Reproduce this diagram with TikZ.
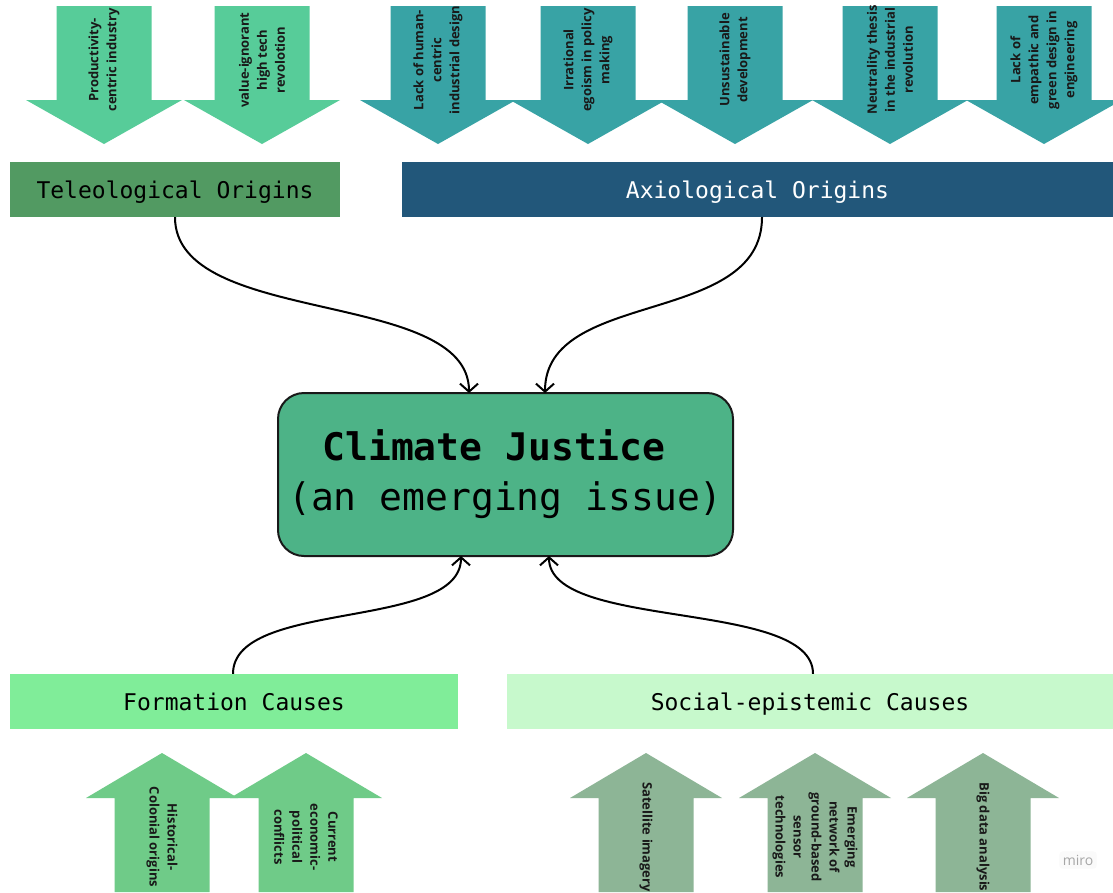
\documentclass[tikz,border=0pt]{standalone}
\usepackage{fontspec}
\setmainfont{Open Sans}
\setmonofont{DejaVu Sans Mono}
\usetikzlibrary{calc,arrows.meta}

\definecolor{telegreen}{HTML}{529A62}
\definecolor{axioblue}{HTML}{22577A}
\definecolor{axioteal}{HTML}{38A3A5}
\definecolor{mint}{HTML}{57CC99}
\definecolor{formgreen}{HTML}{80ED99}
\definecolor{socgreen}{HTML}{C7F9CC}
\definecolor{cjgreen}{HTML}{4DB387}
\definecolor{histgreen}{HTML}{6FCB88}
\definecolor{sagegreen}{HTML}{8DB596}

\tikzset{
  arrowtext/.style={font=\bfseries\fontsize{13}{18}\selectfont, align=center, inner sep=0pt, text=black!90},
  hdr/.style={font=\ttfamily\fontsize{23}{28}\selectfont, minimum height=55pt, inner sep=0pt, text height=20pt, text depth=3pt},
  conn/.style={line width=2pt, -{Straight Barb[length=8pt,width=18pt]}}
}

% down arrow: [fill](centre x){name}{text}
\def\arrowdown[#1](#2)#3#4{%
  \fill[#1] ({#2-47.5},6) -- ({#2+47.5},6) -- ({#2+47.5},100) -- ({#2+78},100) -- (#2,144) -- ({#2-78},100) -- ({#2-47.5},100) -- cycle;
  \node[arrowtext, rotate=90] (#3) at (#2,60) {#4};}
% up arrow: [fill](centre x){name}{text}
\def\arrowup[#1](#2)#3#4{%
  \fill[#1] ({#2-47.5},892) -- ({#2-47.5},798) -- ({#2-76},798) -- (#2,753) -- ({#2+76},798) -- ({#2+47.5},798) -- ({#2+47.5},892) -- cycle;
  \node[arrowtext, rotate=-90] (#3) at (#2,837) {#4};}

\begin{document}
\begin{tikzpicture}[x=1pt, y=-1pt]
  \useasboundingbox[fill=white] (0,0) rectangle (1113,892);

  %%%%% top arrows %%%%%
  \arrowdown[mint](104){prod}{Productivity-\\centric industry}
  \arrowdown[mint](262){valign}{value-ignorant\\high tech\\revolotion}
  \arrowdown[axioteal](438){lackhum}{Lack of human-\\centric\\industrial design}
  \arrowdown[axioteal](588){egoism}{Irrational\\egoism in policy\\making}
  \arrowdown[axioteal](735){unsust}{Unsustainable\\development}
  \arrowdown[axioteal](890){neutral}{Neutrality thesis\\in the industrial\\revolution}
  \arrowdown[axioteal](1044){empath}{Lack of\\empathic and\\green design in\\engineering}

  %%%%% origins %%%%%
  \node[hdr, fill=telegreen, minimum width=330pt] (teleo) at (175,189.5) {Teleological Origins};
  \node[hdr, fill=axioblue, text=white, minimum width=711pt] (axio) at (757.5,189.5) {Axiological Origins};

  %%%%% centre %%%%%
  \node[draw=black!90, line width=2pt, fill=cjgreen, rounded corners=26pt,
        minimum width=455pt, minimum height=163pt, align=center,
        font=\ttfamily\fontsize{38}{50}\selectfont] (cj) at (505.5,474.5)
        {{\bfseries Climate Justice}\phantom{x}\\(an emerging issue)};
  \coordinate (cjtl) at (469,393);
  \coordinate (cjtr) at (545,393);
  \coordinate (cjbl) at (461,556);
  \coordinate (cjbr) at (549,556);

  %%%%% causes %%%%%
  \node[hdr, fill=formgreen, minimum width=448pt] (form) at (234,701.5) {Formation Causes};
  \node[hdr, fill=socgreen, minimum width=606pt] (soc) at (810,701.5) {Social-epistemic Causes};

  %%%%% connectors %%%%%
  \draw[conn] (teleo.south) .. controls +(0,110) and +(0,-105) .. (cjtl);
  \draw[conn] (axio.south -| 762,0) .. controls +(0,110) and +(0,-105) .. (cjtr);
  \draw[conn] (form.north -| 233,0) .. controls +(0,-75) and +(0,75) .. (cjbl);
  \draw[conn] (soc.north -| 813,0) .. controls +(0,-75) and +(0,75) .. (cjbr);

  %%%%% bottom arrows %%%%%
  \arrowup[histgreen](162){histcol}{Historical-\\Colonial origins}
  \arrowup[histgreen](306){econpol}{Current\\economic-\\political\\conflicts}
  \arrowup[sagegreen](646){satimg}{Satellite imagery}
  \arrowup[sagegreen](815){sensor}{Emerging\\network of\\ground-based\\sensor\\technologies}
  \arrowup[sagegreen](983){bigdata}{Big data analysis}

  \node[fill=black!2, rounded corners=3pt, text=black!35, font=\fontsize{14}{16}\selectfont] (miro) at (1078,860) {miro};
\end{tikzpicture}
\end{document}
